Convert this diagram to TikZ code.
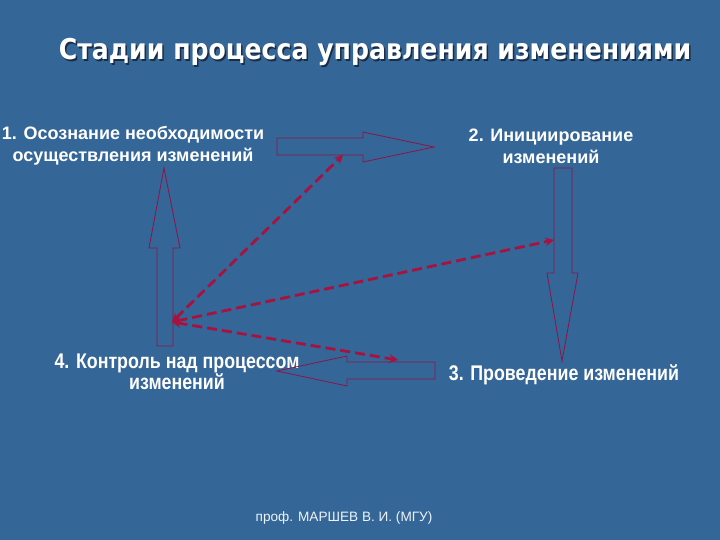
\documentclass[tikz,border=0pt]{standalone}
\usepackage{fontspec}
\setmainfont{Liberation Sans}
\newfontfamily\titlefont[FakeStretch=0.88]{DejaVu Sans}
\newfontfamily\narrowfont[FakeStretch=0.84]{Liberation Sans}
\usetikzlibrary{arrows, positioning}

\definecolor{slideblue}{RGB}{52,102,152}
\definecolor{arrowred}{RGB}{140,20,70}
\definecolor{dashred}{RGB}{168,18,62}
\definecolor{shadowgray}{RGB}{25,45,70}

\begin{document}
\begin{tikzpicture}[
            x = 1pt,
            y = -1pt,
            > = stealth,
            stage/.style = {text = white, align = center, font = \bfseries\fontsize{18}{22}\selectfont},
            stagenarrow/.style = {text = white, align = center, font = \narrowfont\bfseries\fontsize{21.2}{21}\selectfont},
            blockarrow/.style = {draw = arrowred, line width = 0.8pt, line join = miter},
            link/.style = {<->, draw = dashred, line width = 2.8pt, dash pattern = on 10pt off 5pt}
        ]
        \fill[slideblue] (0,0) rectangle (720,540);
        \useasboundingbox (0,0) rectangle (720,540);

        % title with shadow
        \node[text = shadowgray, font = \titlefont\bfseries\fontsize{28.6}{32}\selectfont] (titleshadow) at (376.5,53.5) {Стадии процесса управления изменениями};
        \node[text = white, font = \titlefont\bfseries\fontsize{28.6}{32}\selectfont] (title) at (375,52) {Стадии процесса управления изменениями};

        % stages
        \node[stage] (S1) at (133,146) {1. Осознание необходимости\\осуществления изменений};
        \node[stage] (S2) at (551,146) {2. Инициирование\\изменений};
        \node[stagenarrow] (S3) at (564,375) {3. Проведение изменений};
        \node[stagenarrow] (S4) at (177,372) {4. Контроль над процессом\\изменений};

        % block arrows
        \draw[blockarrow] (277,138) -- (363,138) -- (363,132) -- (434,147) -- (363,162) -- (363,155) -- (277,155) -- cycle;
        \draw[blockarrow] (554,168) -- (572,168) -- (572,273) -- (578,273) -- (562,361) -- (547,273) -- (554,273) -- cycle;
        \draw[blockarrow] (435,362) -- (347,362) -- (347,356) -- (277,371) -- (347,386) -- (347,379) -- (435,379) -- cycle;
        \draw[blockarrow] (157,346) -- (157,248) -- (149,248) -- (164,168) -- (180,248) -- (173,248) -- (173,346) -- cycle;

        % dashed links
        \coordinate (hub) at (172,322);
        \coordinate (toS1) at (343,155);
        \coordinate (toS2) at (554,240);
        \coordinate (toS3) at (398,360);

        \draw[link] (hub) -- (toS1);
        \draw[link] (hub) -- (toS2);
        \draw[link] (hub) -- (toS3);

        \node[text = white!92!slideblue, font = \fontsize{13.6}{16}\selectfont] (author) at (344,518) {проф. МАРШЕВ В. И. (МГУ)};
    \end{tikzpicture}
\end{document}
